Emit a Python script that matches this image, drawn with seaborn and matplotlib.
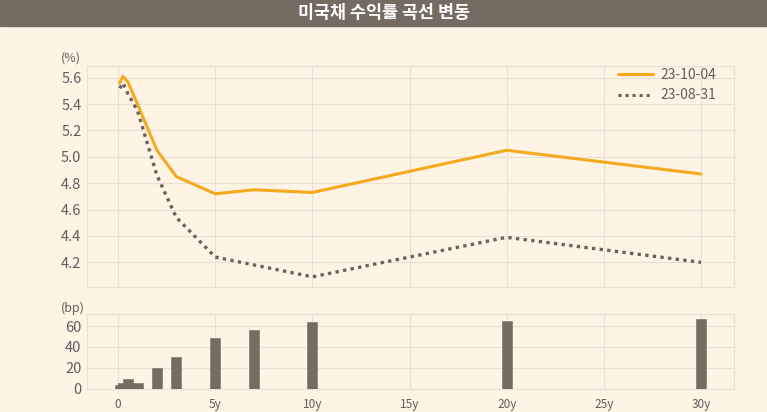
import numpy as np
import pandas as pd
import seaborn as sns
import matplotlib.pyplot as plt

# 만기 (년)
maturity = [1/12, 0.25, 0.5, 1, 2, 3, 5, 7, 10, 20, 30]
yield_1004 = [5.56, 5.61, 5.57, 5.40, 5.05, 4.85, 4.72, 4.75, 4.73, 5.05, 4.87]
yield_0831 = [5.52, 5.56, 5.48, 5.35, 4.86, 4.54, 4.24, 4.18, 4.09, 4.39, 4.20]
change_bp = [4, 5, 9, 5, 20, 30, 49, 56, 64, 65, 67]

xticks = [0, 5, 10, 15, 20, 25, 30]
xlabels = ["0", "5y", "10y", "15y", "20y", "25y", "30y"]

bg = "#FEF4E4"
band = "#766B60"
orange = "#F5A91E"
dotc = "#6A635D"
gridc = "#E8E0D4"
txt = "#5E5E5E"

sns.set_theme(style="white")
plt.rcParams['font.family'] = ['Noto Sans CJK KR', 'DejaVu Sans']

df = pd.DataFrame({"m": maturity, "23-10-04": yield_1004, "23-08-31": yield_0831})
long = df.melt(id_vars="m", var_name="date", value_name="y")

fig = plt.figure(figsize=(7.67, 4.12), dpi=100, facecolor=bg)
fig.patches.append(plt.Rectangle((0, 1 - 26/412), 1, 26/412, transform=fig.transFigure,
                                 color=band, zorder=0))
fig.text(0.5, 1 - 13/412, "미국채 수익률 곡선 변동", ha="center", va="center",
         color="white", fontsize=12.5, fontweight="bold")

ax1 = fig.add_axes([0.1134, 0.3034, 0.8436, 0.5364])
ax2 = fig.add_axes([0.1134, 0.0566, 0.8436, 0.1813])

for ax in (ax1, ax2):
    ax.set_facecolor(bg)
    ax.set_xlim(-1.6, 31.7)
    ax.set_xticks(xticks)
    ax.grid(True, color=gridc, linewidth=0.8)
    ax.set_axisbelow(True)
    for s in ax.spines.values():
        s.set_color(gridc)
        s.set_linewidth(0.8)
    ax.tick_params(length=0, colors=txt, labelsize=10.5, pad=4)

sns.lineplot(data=long, x="m", y="y", hue="date", style="date",
             palette={"23-10-04": orange, "23-08-31": dotc},
             dashes={"23-10-04": "", "23-08-31": (1, 1.3)},
             ax=ax1, linewidth=2.2, legend=True)
ax1.lines[1].set_linewidth(2.4)
ax1.set_ylim(4.013, 5.689)
ax1.set_yticks([4.2, 4.4, 4.6, 4.8, 5.0, 5.2, 5.4, 5.6])
ax1.set_yticklabels([f"{v:.1f}" for v in [4.2, 4.4, 4.6, 4.8, 5.0, 5.2, 5.4, 5.6]])
ax1.set_xticklabels([])
ax1.set_xlabel("")
ax1.set_ylabel("")
leg = ax1.legend(loc="upper right", frameon=False, fontsize=10, handlelength=2.5,
                 labelspacing=0.45, borderaxespad=0.15, handletextpad=0.6,
                 bbox_to_anchor=(0.985, 1.025))
for t in leg.get_texts():
    t.set_color(txt)
ax1.text(-0.04, 1.02, "(%)", transform=ax1.transAxes, fontsize=9, color=txt)

ax2.bar(maturity, change_bp, width=0.52, color=band, edgecolor=band,
        linewidth=0.4, zorder=3)
ax2.set_ylim(0, 71.6)
ax2.set_yticks([0, 20, 40, 60])
ax2.set_xticklabels(xlabels, fontsize=8.5)
ax2.tick_params(axis="x", pad=7)
ax2.text(-0.04, 1.03, "(bp)", transform=ax2.transAxes, fontsize=9, color=txt)

fig.savefig("out.png", dpi=100, facecolor=bg)
